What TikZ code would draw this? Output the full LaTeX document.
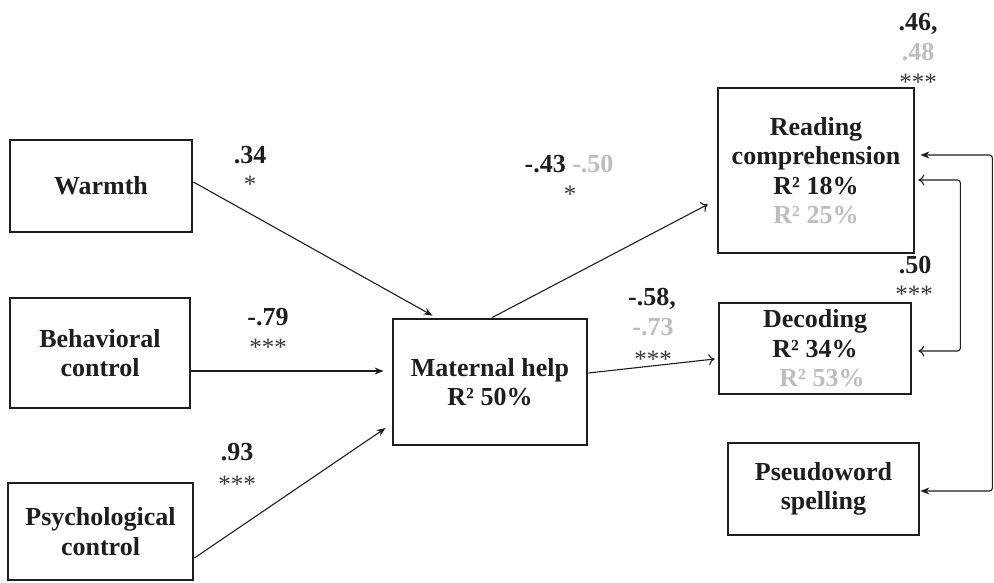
\documentclass[tikz,border=0pt]{standalone}
\usepackage{fontspec}
\setmainfont{Liberation Serif}
\usetikzlibrary{arrows.meta,calc}
\definecolor{ink}{HTML}{1E1E1E}
\definecolor{lgray}{HTML}{BDBDBD}
\definecolor{stargray}{HTML}{3A3A3A}
\begin{document}
\begin{tikzpicture}[x=1pt,y=-1pt,
  box/.style={draw=ink,line width=2.8pt,text=ink,font=\fontsize{26}{29.5}\selectfont\bfseries,align=center,inner sep=0pt},
  lab/.style={anchor=base,font=\fontsize{26}{29.5}\selectfont\bfseries,text=ink,inner sep=0pt},
  glab/.style={lab,text=lgray},
  st/.style={anchor=base,font=\fontsize{25}{29}\selectfont,text=stargray,inner sep=0pt},
  conn/.style={draw=ink,line width=1.1pt},
  fa/.style={-{Stealth[length=9pt,width=7pt]}},
  oa/.style={-{To[length=6pt,width=11pt]}}
]
\useasboundingbox (0,0) rectangle (994,582);
\fill[white] (0,0) rectangle (994,582);

\node[box,minimum width=182pt,minimum height=92pt] (w) at (101,186) {Warmth};
\node[box,minimum width=180pt,minimum height=110pt] (b) at (100,353) {Behavioral\\control};
\node[box,minimum width=185pt,minimum height=97pt] (p) at (100.5,531.5) {Psychological\\control};
\node[box,minimum width=194pt,minimum height=126pt] (mh) at (490,382) {Maternal help\\R² 50\%};
\node[box,minimum width=196pt,minimum height=165pt] (r) at (816,170.5) {Reading\\comprehension\\R² 18\%\\\textcolor{lgray}{R² 25\%}};
\node[box,minimum width=192pt,minimum height=91pt] (d) at (815,348.5) {Decoding\\R² 34\%\\\hspace*{14pt}\textcolor{lgray}{R² 53\%}};
\node[box,minimum width=191pt,minimum height=92pt] (ps) at (823.5,489) {Pseudoword\\spelling};

\draw[conn,fa] ($(w.east)+(0,-4)$) -- ($(mh.north west)+(41,-2)$);
\draw[conn,fa] ($(b.east)+(0,18)$) -- ($(b.east -| mh.west)+(-8,18)$);
\draw[conn,fa] ($(p.east)+(0,26.5)$) -- ($(mh.west)+(-6,46)$);
\draw[conn,oa] ($(mh.north)+(2,0)$) -- ($(r.west)+(-9,34)$);
\draw[conn,oa] ($(mh.east)+(0,-9)$) -- ($(d.west)+(-3,10.5)$);

\draw[conn,{Stealth[length=9pt,width=7pt]}-{Stealth[length=9pt,width=7pt]},rounded corners=3pt]
  ($(r.east)+(5,-15.5)$) -- ++(72,0) |- ($(ps.east)+(0,2)$);
\draw[conn,{To[length=6pt,width=11pt]}-{To[length=6pt,width=11pt]},rounded corners=3pt]
  ($(r.east)+(3,9.5)$) -- ++(42,0) |- ($(d.east)+(6,2.5)$);

\node[lab] (l1) at (250,163) {.34};
\node[st] (s1) at (250,192) {*};
\node[lab] (l2) at (268,325) {-.79};
\node[st] (s2) at (268,355) {***};
\node[lab] (l3) at (237,460) {.93};
\node[st] (s3) at (237,492) {***};
\node[lab] (l4) at (569,172) {-.43 \textcolor{lgray}{-.50}};
\node[st] (s4) at (570,202) {*};
\node[lab] (l5) at (652,305) {-.58,};
\node[glab] (l5b) at (653,335) {-.73};
\node[st] (s5) at (653,367) {***};
\node[lab] (l6) at (918,30) {.46,};
\node[glab] (l6b) at (918,60) {.48};
\node[st] (s6) at (918,90) {***};
\node[lab] (l7) at (915,273) {.50};
\node[st] (s7) at (914,302) {***};
\end{tikzpicture}
\end{document}
